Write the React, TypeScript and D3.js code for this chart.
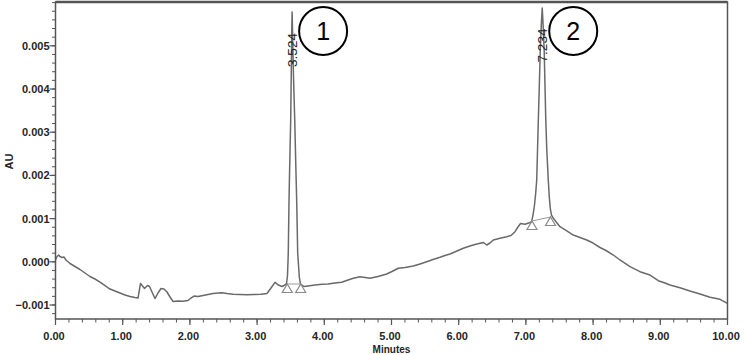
import React from "react";
import * as d3 from "d3";

// Chromatogram trace: retention time (minutes) and absorbance (AU)
const traceTime = [
  0, 0.022, 0.048, 0.067, 0.097, 0.126, 0.156, 0.216, 0.29, 0.365, 0.439, 0.513, 0.588, 0.662, 0.737, 0.811,
  0.885, 0.96, 1.034, 1.109, 1.183, 1.228, 1.265, 1.295, 1.324, 1.369, 1.399, 1.436, 1.481, 1.525, 1.57, 1.615,
  1.659, 1.704, 1.749, 1.823, 1.897, 1.972, 2.016, 2.061, 2.121, 2.195, 2.269, 2.344, 2.418, 2.478, 2.552, 2.641,
  2.746, 2.85, 2.954, 3.058, 3.147, 3.207, 3.266, 3.315, 3.371, 3.415,
  3.4375, 3.452, 3.464, 3.475, 3.49, 3.5, 3.509, 3.516, 3.521, 3.527, 3.539, 3.56, 3.574, 3.589, 3.604, 3.628, 3.646,
  3.698, 3.757, 3.862, 3.966, 4.055, 4.159, 4.259, 4.353, 4.432, 4.531, 4.606, 4.68, 4.799, 4.929, 5.007, 5.101,
  5.201, 5.324, 5.424, 5.524, 5.618, 5.722, 5.796, 5.871, 5.975, 6.068, 6.168, 6.243, 6.317, 6.369, 6.417, 6.466,
  6.515, 6.615, 6.714, 6.778, 6.838, 6.882, 6.92, 6.987, 7.051, 7.086,
  7.11, 7.128, 7.146, 7.161, 7.173, 7.185, 7.2, 7.214, 7.229, 7.243, 7.256, 7.272, 7.284, 7.296, 7.311, 7.333,
  7.348, 7.362, 7.381, 7.411,
  7.463, 7.507, 7.597, 7.705, 7.805, 7.905, 7.999, 8.103, 8.192, 8.301, 8.4, 8.549, 8.698, 8.847, 8.97, 9.07,
  9.144, 9.293, 9.442, 9.591, 9.74, 9.889, 10.0,
];
const traceAU = [
  0.04, 0.123, 0.157, 0.123, 0.1, 0.111, 0.042, -0.039, -0.109, -0.178, -0.259, -0.34, -0.398, -0.468, -0.549, -0.63,
  -0.676, -0.722, -0.769, -0.803, -0.826, -0.838, -0.502, -0.56, -0.618, -0.549, -0.572, -0.699, -0.85, -0.722, -0.618, -0.63,
  -0.699, -0.815, -0.919, -0.907, -0.912, -0.896, -0.838, -0.792, -0.803, -0.78, -0.757, -0.734, -0.722, -0.715, -0.734, -0.75,
  -0.757, -0.762, -0.757, -0.75, -0.734, -0.606, -0.475, -0.537, -0.572, -0.537,
  -0.502, -0.329, 0.204, 1.431, 2.588, 3.282, 4.44, 5.366, 5.782, 5.366, 4.44, 3.282, 2.356, 1.431, 0.204, -0.352, -0.514,
  -0.572, -0.56, -0.537, -0.519, -0.514, -0.491, -0.475, -0.421, -0.382, -0.345, -0.363, -0.382, -0.34, -0.282, -0.225, -0.15,
  -0.132, -0.097, -0.051, 0.002, 0.053, 0.104, 0.146, 0.181, 0.25, 0.3125, 0.366, 0.4, 0.428, 0.447, 0.389, 0.435,
  0.505, 0.544, 0.581, 0.609, 0.697, 0.806, 0.887, 0.868, 0.905, 0.928,
  1.123, 1.315, 1.593, 1.894, 2.588, 3.282, 4.093, 4.903, 5.481, 5.875, 5.481, 4.903, 4.093, 3.282, 2.588, 1.894,
  1.507, 1.245, 1.083, 1.002,
  0.898, 0.8125, 0.725, 0.62, 0.5625, 0.505, 0.435, 0.331, 0.2616, 0.157, 0.042, -0.113, -0.229, -0.306, -0.4375, -0.491,
  -0.537, -0.6, -0.676, -0.745, -0.822, -0.868, -0.961,
].map((v) => v / 1000);

// Peaks
const peakRT = ["3.524", "7.234"];
const peakApexTime = [3.521, 7.243];
const peakNumber = ["1", "2"];
const peakStartTime = [3.449, 7.091];
const peakStartAU = [-0.000514, 0.000944];
const peakEndTime = [3.649, 7.366];
const peakEndAU = [-0.000514, 0.001037];

// Axes
const xMajor = d3.range(0, 11).map((i) => i);
const xMinor = d3.range(0, 51).map((i) => i * 0.2);
const yMajor = d3.range(-1, 6).map((i) => i * 0.001);
const yMinor = d3.range(-6, 31).map((i) => i * 0.0002);

const W = 744;
const H = 355;
const L = 55.5;
const R = 727.5;
const T = 2;
const B = 319;

export default function App() {
  const x = d3.scaleLinear().domain([0, 10]).range([L, R]);
  const y = d3.scaleLinear().domain([-0.001324, 0.006014]).range([B, T]);
  const pts: [number, number][] = traceTime.map((t, i) => [t, traceAU[i]]);
  const line = d3
    .line<[number, number]>()
    .x((d) => x(d[0]))
    .y((d) => y(d[1]));
  const font = "'Liberation Sans', Arial, sans-serif";
  const tri = (cx: number, cy: number) =>
    `M${cx},${cy} L${cx + 5},${cy + 8.5} L${cx - 5},${cy + 8.5} Z`;

  return (
    <svg
      width={W}
      height={H}
      style={{ position: "absolute", left: 0, top: 0, background: "#fff" }}
      fontFamily={font}
    >
      <rect x={0} y={0} width={W} height={H} fill="#fff" />
      {/* trace */}
      <path d={line(pts) || ""} fill="none" stroke="#6a6a6a" strokeWidth={1.5} strokeLinejoin="round" />
      {/* integration baselines and markers */}
      {peakStartTime.map((t, i) => (
        <g key={"int" + i}>
          <line
            x1={x(t)}
            y1={y(peakStartAU[i])}
            x2={x(peakEndTime[i])}
            y2={y(peakEndAU[i])}
            stroke="#9a9a9a"
            strokeWidth={1}
          />
          <path d={tri(x(t), y(peakStartAU[i]))} fill="none" stroke="#8a8a8a" strokeWidth={1.2} />
          <path
            d={tri(x(peakEndTime[i]), y(peakEndAU[i]))}
            fill="none"
            stroke="#8a8a8a"
            strokeWidth={1.2}
          />
        </g>
      ))}
      {/* retention time labels */}
      {peakApexTime.map((t, i) => (
        <text
          key={"rt" + i}
          transform={`translate(${x(t) + 4.4},${i === 0 ? 50 : 45.5}) rotate(-90)`}
          textAnchor="middle"
          fontSize={13.5}
          fill="#222"
        >
          {peakRT[i]}
        </text>
      ))}
      {/* circled peak numbers */}
      {peakApexTime.map((t, i) => (
        <g key={"c" + i} transform={`translate(${x(t) + 31},${31})`}>
          <circle r={24} fill="#fff" stroke="#000" strokeWidth={2} />
          <text y={9} textAnchor="middle" fontSize={25} fill="#000">
            {peakNumber[i]}
          </text>
        </g>
      ))}
      {/* frame */}
      <rect x={L} y={T} width={R - L} height={B - T} fill="none" stroke="#555" strokeWidth={1.5} />
      <line x1={L} x2={R} y1={T} y2={T} stroke="#555" strokeWidth={2.5} />
      {/* y ticks */}
      {yMinor.map((v, i) => (
        <line key={"ym" + i} x1={L - 3.5} x2={L} y1={y(v)} y2={y(v)} stroke="#555" strokeWidth={1} />
      ))}
      {yMajor.map((v, i) => (
        <g key={"yM" + i}>
          <line x1={L - 6} x2={L} y1={y(v)} y2={y(v)} stroke="#555" strokeWidth={1.2} />
          <text
            x={L - 6}
            y={y(v)}
            dy="0.36em"
            textAnchor="end"
            fontSize={11}
            fontWeight="bold"
            fill="#262626"
          >
            {d3.format(".3f")(v)}
          </text>
        </g>
      ))}
      {/* x ticks */}
      {xMinor.map((v, i) => (
        <line key={"xm" + i} x1={x(v)} x2={x(v)} y1={B} y2={B + 3.5} stroke="#555" strokeWidth={1} />
      ))}
      {xMajor.map((v, i) => (
        <g key={"xM" + i}>
          <line x1={x(v)} x2={x(v)} y1={B} y2={B + 6} stroke="#555" strokeWidth={1.2} />
          <text
            x={x(v) - 1.5}
            y={339.5}
            textAnchor="middle"
            fontSize={11}
            fontWeight="bold"
            fill="#262626"
          >
            {d3.format(".2f")(v)}
          </text>
        </g>
      ))}
      <text x={(L + R) / 2} y={352.5} textAnchor="middle" fontSize={10} fontWeight="bold" fill="#262626">
        Minutes
      </text>
      <text
        transform={`translate(12.8,161.5) rotate(-90)`}
        textAnchor="middle"
        fontSize={11}
        fontWeight="bold"
        fill="#262626"
      >
        AU
      </text>
    </svg>
  );
}
